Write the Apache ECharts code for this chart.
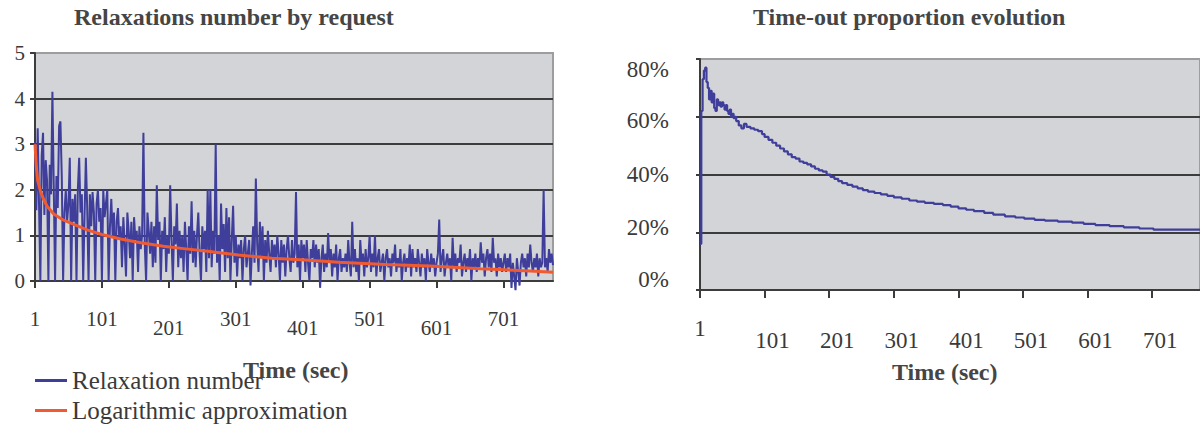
<!DOCTYPE html>
<html>
<head>
<meta charset="utf-8">
<script src="https://cdn.jsdelivr.net/npm/echarts@6/dist/echarts.min.js"></script>
<style>
  html, body { margin: 0; padding: 0; background: #ffffff; }
  #c { width: 1200px; height: 425px; }
</style>
</head>
<body>
<div id="c"></div>
<script>
// ---------------- DATA ----------------
const chartTitles = ['Relaxations number by request', 'Time-out proportion evolution'];
const axisName = 'Time (sec)';
const legendNames = ['Relaxation number', 'Logarithmic approximation'];
const propSeriesName = 'Time-out proportion';

// sampling of the time axis (seconds), first and last sample
const firstSecond = 1;
const lastSecond = 775;
const sampleStep = 2;

// Relaxation number, one value per sample (t = 1, 3, 5, ... 775)
const relaxValues = [
  3.05, 1.55, 3.35, 1.7, 0, 2.75, 3.25, 1.45, 2.65, 2.2,
  0, 2.55, 1.9, 4.15, 2.1, 0, 2.3, 1.6, 3.4, 3.5,
  2.3, 0, 1.5, 2.0, 1.3, 1.7, 2.7, 0, 1.8, 1.3,
  1.9, 0, 2.0, 2.7, 1.5, 1.9, 0, 1.4, 2.7, 1.6,
  0, 1.9, 1.2, 1.95, 1.5, 0, 1.7, 2.0, 1.3, 1.6,
  0, 2.0, 1.4, 1.7, 2.0, 0, 1.2, 1.8, 1.0, 1.5,
  0, 1.3, 1.6, 0.9, 1.2, 0.3, 1.4, 0.8, 0.1, 1.5,
  1.1, 0.5, 1.3, 0, 1.4, 0.9, 1.1, 0.2, 1.2, 0.7,
  1.0, 3.25, 0.8, 0, 1.5, 1.1, 0.6, 1.3, 0.3, 1.2,
  0.4, 2.1, 0.9, 1.3, 0, 1.1, 0.7, 1.4, 0.2, 1.0,
  0.6, 2.1, 0.9, 0, 1.2, 0.8, 1.7, 0.3, 1.1, 0.5,
  1.0, 0.2, 1.3, 0.7, 0, 1.2, 0.6, 1.75, 0.4, 1.1,
  0.3, 1.0, 1.5, 0.6, 0, 1.2, 0.7, 1.1, 0.2, 2.0,
  0.5, 2.0, 0.3, 1.1, 0.6, 3.0, 0.4, 1.0, 0, 1.7,
  0.7, 1.25, 0.2, 1.6, 0.5, 1.4, 0, 0.9, 1.65, 0.4,
  1.0, 0.1, 0.8, 0.5, 0.9, 0, 0.7, 1.0, 0.3, 0.6,
  0.9, -0.1, 0.6, 1.2, 0.4, 2.25, 0.8, 0.2, 1.3, 0.5,
  1.2, 0, 0.9, 0.4, 1.1, 0.6, 0.2, 0.9, 0.5, 0.8,
  0.3, 1.0, 0.6, 0, 0.9, 0.4, 0.8, 0.1, 0.7, 1.0,
  0.5, 0.2, 0.9, 0.4, 0.6, 1.95, 0.3, 0.8, 0, 0.9,
  0.5, 0.8, 0.2, 0.9, 0.4, 0, 0.7, 0.5, 0.9, 0.3,
  0.8, 0.4, 0.7, -0.15, 0.5, 0.8, 0.2, 0.6, 0.3, 1.05,
  0.4, 0.7, 0.1, 0.6, 0.3, 0.8, 0, 0.5, 0.7, 0.2,
  0.5, 0.3, 0.6, 0.2, 0.9, 0.4, 0.1, 1.3, 0.3, 0.7,
  0.2, 0.5, 0, 0.9, 0.4, 0.6, 0.1, 0.7, 0.3, 0.5,
  1.0, 0.2, 0.6, 0.3, 1.0, 0.1, 0.5, 0.7, 0.2, 0.4,
  0.6, 0, 0.5, 0.7, 0.3, 0.5, 0.1, 0.6, 0.4, 0.8,
  0.2, 0.5, 0.3, 0.7, 0, 0.4, 0.6, 0.2, 0.5, 0.3,
  0.8, 0.1, 0.7, 0.3, 0.5, 0.2, 0.7, 0.4, 0.1, 0.6,
  0.3, 0.5, 0, 0.7, 0.4, 0.2, 0.6, 0.3, 0.5, 0.1,
  0.4, 0.6, 1.35, 0.2, 0.5, 0.7, 0.1, 0.4, 0.6, 0.3,
  0.5, 0, 0.95, 0.3, 0.6, 0.2, 0.5, 0.4, 0.8, 0.1,
  0.4, 0.6, 0.2, 0.5, 0.3, 0.7, 0, 0.5, 0.3, 0.6,
  0.2, 0.5, 0.3, 0.85, 0.4, 0.6, 0.1, 0.5, 0.7, 0.3,
  0.6, 0.2, 0.95, 0.4, 0.5, 0.1, 0.6, 0.3, 0.5, 0.2,
  0.4, 0.6, 0.2, 0.5, 0.3, 0.6, -0.15, 0.4, 0.1, -0.2,
  0.5, 0.2, -0.1, 0.4, 0.6, 0.3, 0.5, 0.1, 0.6, 0.3,
  0.8, 0.4, 0.2, 0.5, 0.3, 0.6, 0.1, 0.5, 0.3, 0.4,
  2.0, 0.3, 0.5, 0.2, 0.7, 0.4, 0.6, 0.35
];

// Logarithmic approximation read at selected seconds
const logTime  = [1, 3, 5, 9, 13, 19, 29, 43, 59, 79, 101, 129, 159, 193, 223, 259, 305, 355, 405, 455, 525, 591, 667, 741, 775];
const logValue = [3.0, 2.5, 2.2, 1.98, 1.82, 1.64, 1.47, 1.34, 1.24, 1.12, 1.02, 0.92, 0.84, 0.76, 0.71, 0.65, 0.57, 0.50, 0.46, 0.41, 0.36, 0.33, 0.27, 0.22, 0.19];

// Time-out proportion read at selected seconds (level held until next reading)
const propTime = [
  1, 3, 5, 7, 9, 11, 13, 15, 17, 19,
  21, 23, 25, 27, 29, 31, 33, 35, 37, 39,
  41, 43, 45, 47, 49, 51, 53, 55, 57, 61,
  65, 69, 73, 79, 85, 91, 97, 101, 107, 113,
  119, 125, 131, 137, 143, 149, 155, 161, 167, 173,
  179, 185, 191, 197, 203, 209, 215, 221, 229, 237,
  245, 253, 261, 271, 281, 291, 301, 313, 325, 337,
  349, 363, 377, 389, 401, 413, 425, 441, 455, 473,
  489, 503, 519, 535, 555, 577, 595, 613, 635, 657,
  681, 703, 775
];
const propValue = [
  0.16, 0.62, 0.73, 0.76, 0.77, 0.72, 0.70, 0.66, 0.69, 0.65,
  0.68, 0.63, 0.62, 0.66, 0.64, 0.65, 0.635, 0.65, 0.64, 0.625,
  0.64, 0.62, 0.61, 0.625, 0.60, 0.61, 0.595, 0.60, 0.585, 0.57,
  0.56, 0.575, 0.565, 0.56, 0.555, 0.55, 0.54, 0.53, 0.52, 0.51,
  0.50, 0.49, 0.48, 0.47, 0.46, 0.455, 0.445, 0.44, 0.435, 0.428,
  0.42, 0.414, 0.41, 0.40, 0.392, 0.385, 0.377, 0.37, 0.364, 0.358,
  0.352, 0.346, 0.341, 0.336, 0.331, 0.326, 0.321, 0.316, 0.31, 0.306,
  0.302, 0.298, 0.294, 0.289, 0.283, 0.278, 0.273, 0.267, 0.261, 0.255,
  0.251, 0.247, 0.243, 0.24, 0.237, 0.233, 0.229, 0.225, 0.221, 0.217,
  0.213, 0.209, 0.209
];

// tick labels (every 100 seconds)
const timeTickLabels = ['1', '101', '201', '301', '401', '501', '601', '701'];
const relaxTicks = [0, 1, 2, 3, 4, 5];
const propTicks = [0, 0.2, 0.4, 0.6, 0.8];

// ---------------- BUILD ----------------
const seconds = [];
for (let t = firstSecond; t <= lastSecond; t += sampleStep) seconds.push(String(t));
const logData = logTime.map((t, i) => [String(t), logValue[i]]);
const propData = propTime.map((t, i) => [String(t), propValue[i]]);

const serif = 'Liberation Serif';
const ink = '#3a3a3a';
const dark = '#3c3c3c';
const blue = '#3f3f9b';
const orange = '#f05a30';
const plotBg = '#d3d4d7';

const titleStyle = { fontFamily: serif, fontSize: 24, fontWeight: 'bold', color: '#454545' };
const labelStyle = (size) => ({ fontFamily: serif, fontSize: size, fontWeight: 'normal', color: ink });

const leftLowered = { '201': true, '401': true, '601': true };

const chart = echarts.init(document.getElementById('c'), null, { renderer: 'svg', width: 1200, height: 425 });

const option = {
  animation: false,
  backgroundColor: '#ffffff',
  textStyle: { fontFamily: serif },
  title: [
    { text: chartTitles[0], left: 74, top: 5, padding: 0, textStyle: titleStyle },
    { text: chartTitles[1], left: 753, top: 5, padding: 0, textStyle: titleStyle },
    { text: axisName, left: 243, top: 358, padding: 0, textStyle: titleStyle },
    { text: axisName, left: 892, top: 360, padding: 0, textStyle: titleStyle }
  ],
  legend: {
    data: legendNames,
    orient: 'vertical',
    left: 35,
    top: 368,
    padding: 0,
    itemGap: 5,
    itemWidth: 32,
    itemHeight: 3,
    icon: 'rect',
    textStyle: labelStyle(25)
  },
  grid: [
    { left: 35, top: 53, width: 518, height: 228, show: true, backgroundColor: plotBg, borderColor: '#9d9d9d', borderWidth: 2 },
    { left: 700, top: 59, width: 501, height: 231, show: true, backgroundColor: plotBg, borderColor: '#9d9d9d', borderWidth: 2 }
  ],
  xAxis: [
    {
      type: 'category', gridIndex: 0, data: seconds, boundaryGap: false,
      axisLine: { lineStyle: { color: dark, width: 2 } },
      axisTick: { interval: 49, length: 7, lineStyle: { color: dark, width: 2 } },
      axisLabel: {
        interval: 49, margin: 27,
        ...labelStyle(21),
        formatter: (v) => (leftLowered[v] ? '{lo|' + v + '}' : '{hi|' + v + '}'),
        rich: {
          lo: { ...labelStyle(21), padding: [9, 0, 0, 0] },
          hi: { ...labelStyle(21) }
        }
      },
      splitLine: { show: false }
    },
    {
      type: 'category', gridIndex: 1, data: seconds, boundaryGap: false,
      axisLine: { lineStyle: { color: dark, width: 2 } },
      axisTick: { interval: 49, length: 8, lineStyle: { color: dark, width: 2 } },
      axisLabel: {
        interval: 49, margin: 27,
        ...labelStyle(23),
        formatter: (v) => (v === timeTickLabels[0] ? '{a|' + v + '}' : '{b|' + v + '}'),
        rich: {
          a: { ...labelStyle(23) },
          b: { ...labelStyle(23), padding: [12, 0, 0, 16] }
        }
      },
      splitLine: { show: false }
    }
  ],
  yAxis: [
    {
      type: 'value', gridIndex: 0, min: relaxTicks[0], max: relaxTicks[relaxTicks.length - 1], interval: 1,
      axisLine: { show: true, lineStyle: { color: dark, width: 2 } },
      axisTick: { show: true, length: 5, lineStyle: { color: dark, width: 2 } },
      axisLabel: { margin: 10, ...labelStyle(21) },
      splitLine: { show: true, showMaxLine: false, lineStyle: { color: dark, width: 2 } }
    },
    {
      type: 'value', gridIndex: 1, min: propTicks[0], max: propTicks[propTicks.length - 1], interval: 0.2,
      axisLine: { show: true, lineStyle: { color: dark, width: 2 } },
      axisTick: { show: true, length: 4, lineStyle: { color: dark, width: 2 } },
      axisLabel: {
        margin: 31, ...labelStyle(23),
        formatter: (v) => {
          const p = Math.round(v * 100);
          return '{p' + p + '|' + p + '%}';
        },
        rich: {
          p0: { ...labelStyle(23), padding: [0, 0, 22, 0] },
          p20: { ...labelStyle(23), padding: [0, 0, 9, 0] },
          p40: { ...labelStyle(23) },
          p60: { ...labelStyle(23), padding: [8, 0, 0, 0] },
          p80: { ...labelStyle(23), padding: [21, 0, 0, 0] }
        }
      },
      splitLine: { show: true, showMaxLine: false, lineStyle: { color: dark, width: 2 } }
    }
  ],
  series: [
    {
      name: legendNames[0], type: 'line', xAxisIndex: 0, yAxisIndex: 0,
      data: relaxValues, symbol: 'none', clip: false,
      lineStyle: { color: blue, width: 2 }, itemStyle: { color: blue }
    },
    {
      name: legendNames[1], type: 'line', xAxisIndex: 0, yAxisIndex: 0,
      data: logData, symbol: 'none',
      lineStyle: { color: orange, width: 3 }, itemStyle: { color: orange }
    },
    {
      name: propSeriesName, type: 'line', xAxisIndex: 1, yAxisIndex: 1,
      data: propData, step: 'end', symbol: 'none',
      lineStyle: { color: blue, width: 2.2 }, itemStyle: { color: blue }
    }
  ]
};

chart.setOption(option);
</script>
</body>
</html>
